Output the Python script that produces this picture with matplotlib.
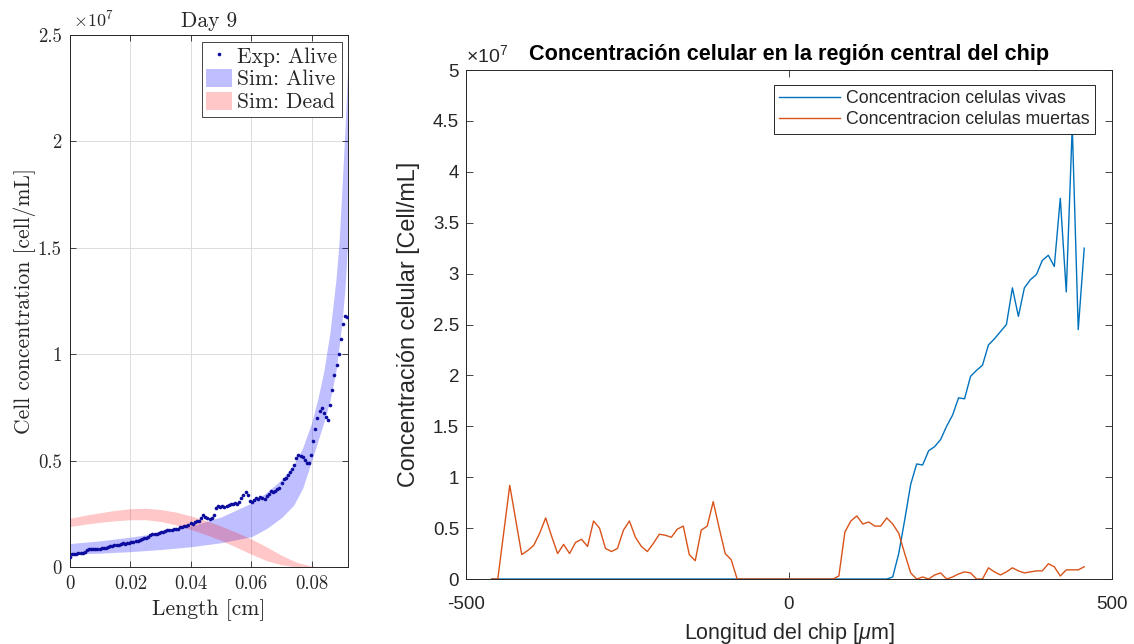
import numpy as np
import matplotlib
matplotlib.use("Agg")
import matplotlib.pyplot as plt
from matplotlib.ticker import FuncFormatter, FixedLocator
from matplotlib.patches import Patch
from matplotlib.lines import Line2D

plt.rcParams['mathtext.fontset'] = 'custom'
plt.rcParams['mathtext.rm'] = 'Liberation Sans'
plt.rcParams['mathtext.it'] = 'Liberation Sans:italic'
plt.rcParams['mathtext.bf'] = 'Liberation Sans:bold'
plt.rcParams['axes.unicode_minus'] = False
plt.rcParams['font.family'] = ['Liberation Sans', 'DejaVu Sans']

SCALE = 1e7  # concentrations below are stored in units of 1e7 cell/mL

# ---------------- Day 9: experiment vs simulation ----------------
exp_length = np.arange(132) * 0.0007  # cm
exp_alive = np.array([
    0.045, 0.062, 0.063, 0.063, 0.064, 0.064, 0.066, 0.072, 0.080, 0.083,
    0.083, 0.083, 0.084, 0.084, 0.085, 0.087, 0.088, 0.090, 0.094, 0.097,
    0.099, 0.102, 0.104, 0.103, 0.109, 0.111, 0.110, 0.112, 0.114, 0.118,
    0.119, 0.120, 0.124, 0.128, 0.131, 0.134, 0.137, 0.142, 0.149, 0.155,
    0.154, 0.156, 0.160, 0.164, 0.166, 0.168, 0.172, 0.175, 0.176, 0.177,
    0.178, 0.180, 0.186, 0.190, 0.192, 0.194, 0.198, 0.205, 0.203, 0.212,
    0.218, 0.215, 0.232, 0.242, 0.236, 0.230, 0.226, 0.232, 0.245, 0.276,
    0.285, 0.282, 0.286, 0.281, 0.288, 0.292, 0.295, 0.297, 0.300, 0.298,
    0.305, 0.322, 0.340, 0.350, 0.336, 0.312, 0.305, 0.316, 0.322, 0.318,
    0.330, 0.325, 0.320, 0.332, 0.345, 0.356, 0.352, 0.358, 0.365, 0.372,
    0.395, 0.415, 0.420, 0.432, 0.445, 0.460, 0.478, 0.510, 0.528, 0.520,
    0.516, 0.505, 0.487, 0.490, 0.525, 0.590, 0.650, 0.700, 0.735, 0.745,
    0.725, 0.705, 0.690, 0.760, 0.830, 0.900, 0.950, 1.000, 1.070, 1.140,
    1.180, 1.175])

sim_length = np.array([0, 0.01, 0.02, 0.03, 0.04, 0.05, 0.06, 0.065, 0.07, 0.074,
                       0.077, 0.08, 0.082, 0.084, 0.086, 0.088, 0.089, 0.09, 0.091, 0.092])
sim_alive_hi = np.array([0.110, 0.123, 0.140, 0.162, 0.192, 0.235, 0.300, 0.350, 0.410, 0.480,
                         0.560, 0.680, 0.790, 0.920, 1.100, 1.350, 1.520, 1.780, 2.060, 2.380])
sim_alive_lo = np.array([0.060, 0.065, 0.072, 0.082, 0.095, 0.114, 0.142, 0.180, 0.232, 0.290,
                         0.370, 0.500, 0.590, 0.680, 0.780, 0.920, 1.030, 1.150, 1.310, 1.550])

dead_length = np.array([0, 0.005, 0.01, 0.015, 0.02, 0.025, 0.03, 0.035, 0.04, 0.045,
                        0.05, 0.055, 0.06, 0.065, 0.07, 0.075, 0.08, 0.085, 0.092])
sim_dead_hi = np.array([0.229, 0.243, 0.255, 0.266, 0.274, 0.276, 0.270, 0.258, 0.240, 0.218,
                        0.192, 0.163, 0.132, 0.095, 0.055, 0.022, 0.004, 0.0, 0.0])
sim_dead_lo = np.array([0.190, 0.201, 0.210, 0.217, 0.222, 0.222, 0.214, 0.198, 0.176, 0.152,
                        0.125, 0.093, 0.060, 0.030, 0.010, 0.0, 0.0, 0.0, 0.0])

left_xticks = [0, 0.02, 0.04, 0.06, 0.08]
left_yticks = [0, 0.5, 1, 1.5, 2, 2.5]

# ---------------- Chip central region profile ----------------
chip_x = np.linspace(-460, 457, 100)  # micrometres
chip_alive = np.array([
    0, 0, 0, 0, 0, 0, 0, 0, 0, 0,
    0, 0, 0, 0, 0, 0, 0, 0, 0, 0,
    0, 0, 0, 0, 0, 0, 0, 0, 0, 0,
    0, 0, 0, 0, 0, 0, 0, 0, 0, 0,
    0, 0, 0, 0, 0, 0, 0, 0, 0, 0,
    0, 0, 0, 0, 0, 0, 0, 0, 0, 0,
    0, 0, 0, 0, 0, 0, 0, 0.02, 0.25, 0.58,
    0.93, 1.13, 1.12, 1.26, 1.30, 1.37, 1.50, 1.61, 1.78, 1.77,
    1.99, 2.05, 2.10, 2.30, 2.36, 2.43, 2.50, 2.86, 2.58, 2.86,
    2.94, 2.99, 3.13, 3.18, 3.07, 3.74, 2.82, 4.45, 2.45, 3.25])
chip_dead = np.array([
    0, 0, 0.46, 0.92, 0.58, 0.24, 0.28, 0.33, 0.45, 0.60,
    0.42, 0.25, 0.34, 0.25, 0.36, 0.39, 0.32, 0.57, 0.50, 0.30,
    0.27, 0.30, 0.48, 0.57, 0.41, 0.32, 0.27, 0.35, 0.44, 0.43,
    0.41, 0.49, 0.52, 0.24, 0.18, 0.48, 0.52, 0.76, 0.50, 0.25,
    0.19, 0, 0, 0, 0, 0, 0, 0, 0, 0,
    0, 0, 0, 0, 0, 0, 0, 0, 0.03, 0.46,
    0.57, 0.62, 0.54, 0.56, 0.52, 0.52, 0.60, 0.54, 0.45, 0.25,
    0.06, 0, 0.02, 0, 0.04, 0.06, 0, 0.02, 0.05, 0.07,
    0.06, 0, 0, 0.11, 0.07, 0.04, 0.07, 0.11, 0.08, 0.06,
    0.07, 0.08, 0.08, 0.15, 0.12, 0.03, 0.09, 0.09, 0.09, 0.12])

right_xticks = [-500, 0, 500]
right_yticks = [0, 0.5, 1, 1.5, 2, 2.5, 3, 3.5, 4, 4.5, 5]

INK = '#262626'
SERIF = 'cmr10'
BLUE = '#0072BD'
ORANGE = '#D95319'
DOT = '#0c0c9e'

fig = plt.figure(figsize=(11.34, 6.44), dpi=100)
fig.patch.set_facecolor('white')

# ================= left panel =================
axL = fig.add_axes([0.0617, 0.1196, 0.2452, 0.8261])
axL.fill_between(sim_length, sim_alive_lo * SCALE, sim_alive_hi * SCALE,
                 color=(0, 0, 1), alpha=0.25, lw=0, zorder=2)
axL.fill_between(dead_length, sim_dead_lo * SCALE, sim_dead_hi * SCALE,
                 color=(1, 0, 0), alpha=0.22, lw=0, zorder=2)
axL.plot(exp_length, exp_alive * SCALE, ls='none', marker='o', ms=2.6,
         mfc=DOT, mec='none', zorder=3)

axL.set_xlim(0, 0.092)
axL.set_ylim(0, 2.5 * SCALE)
axL.xaxis.set_major_locator(FixedLocator(left_xticks))
axL.yaxis.set_major_locator(FixedLocator([v * SCALE for v in left_yticks]))
axL.xaxis.set_major_formatter(FuncFormatter(lambda v, p: f'{v:g}'))
axL.yaxis.set_major_formatter(FuncFormatter(lambda v, p: f'{v / SCALE:g}'))
axL.grid(True, color='#dcdcdc', lw=0.7)
axL.set_axisbelow(True)
axL.tick_params(direction='in', top=True, right=True, length=4, width=0.6,
                colors=INK, labelsize=13.5, labelfontfamily=SERIF, pad=6)
for s in axL.spines.values():
    s.set_color(INK)
    s.set_linewidth(0.7)
axL.set_title('Day 9', fontfamily=SERIF, fontsize=15.5, color=INK, pad=6)
axL.set_xlabel('Length [cm]', fontfamily=SERIF, fontsize=15.5, color=INK, labelpad=4)
axL.set_ylabel('Cell concentration [cell/mL]', fontfamily=SERIF, fontsize=15.5,
               color=INK, labelpad=1)
axL.text(0.01, 1.008, r'$\times10^{7}$', transform=axL.transAxes, ha='left',
         va='bottom', fontsize=13, color=INK, math_fontfamily='cm')

handles_L = [
    Line2D([], [], ls='none', marker='o', ms=2.6, mfc=DOT, mec='none'),
    Patch(facecolor=(0, 0, 1), alpha=0.25, edgecolor='none'),
    Patch(facecolor=(1, 0, 0), alpha=0.22, edgecolor='none'),
]
legL = axL.legend(handles_L, ['Exp: Alive', 'Sim: Alive', 'Sim: Dead'],
                  loc='upper right', bbox_to_anchor=(0.978, 0.987), borderaxespad=0,
                  prop={'family': SERIF, 'size': 15.5}, fancybox=False,
                  edgecolor=INK, framealpha=1, handlelength=1.2, handleheight=0.9,
                  handletextpad=0.25, labelspacing=0.12, borderpad=0.2)
legL.get_frame().set_linewidth(0.6)
for t in legL.get_texts():
    t.set_color(INK)

# ================= right panel =================
axR = fig.add_axes([0.4109, 0.1009, 0.5697, 0.7904])
axR.plot(chip_x, chip_alive * SCALE, color=BLUE, lw=1.0,
         label='Concentracion celulas vivas')
axR.plot(chip_x, chip_dead * SCALE, color=ORANGE, lw=1.0,
         label='Concentracion celulas muertas')
axR.set_xlim(-500, 500)
axR.set_ylim(0, 5 * SCALE)
axR.xaxis.set_major_locator(FixedLocator(right_xticks))
axR.yaxis.set_major_locator(FixedLocator([v * SCALE for v in right_yticks]))
axR.xaxis.set_major_formatter(FuncFormatter(lambda v, p: f'{v:g}'))
axR.yaxis.set_major_formatter(FuncFormatter(lambda v, p: f'{v / SCALE:g}'))
axR.tick_params(direction='in', top=True, right=True, length=5, width=0.6,
                colors=INK, labelsize=13.5, pad=5)
axR.tick_params(axis='x', pad=12)
for s in axR.spines.values():
    s.set_color(INK)
    s.set_linewidth(0.7)
axR.set_title('Concentración celular en la región central del chip',
              fontweight='bold', fontsize=15.6, color='black', pad=7)
axR.set_xlabel(r'Longitud del chip [$\mu$m]', fontsize=15.5, color=INK, labelpad=6)
axR.set_ylabel('Concentración celular [Cell/mL]', fontsize=16.8, color=INK, labelpad=9)
axR.text(0.0, 1.008, r'$\times10^{7}$', transform=axR.transAxes, ha='left',
         va='bottom', fontsize=14, color=INK)

legR = axR.legend(loc='upper right', bbox_to_anchor=(0.9737, 0.9705), borderaxespad=0,
                  fontsize=12.8, fancybox=False, edgecolor=INK, framealpha=1,
                  handlelength=3.4, handletextpad=0.35, labelspacing=0.22,
                  borderpad=0.3)
legR.get_frame().set_linewidth(0.7)
for t in legR.get_texts():
    t.set_color(INK)

fig.savefig('out.png', dpi=100, facecolor='white')
